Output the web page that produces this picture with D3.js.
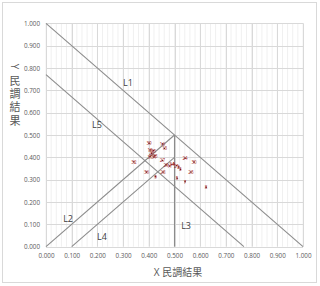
<!DOCTYPE html>
<html><head><meta charset="utf-8">
<script src="https://cdn.jsdelivr.net/npm/d3@7/dist/d3.min.js"></script>
<style>
html,body{margin:0;padding:0;background:#fff;}
svg{display:block;font-family:"Open Sans","Noto Sans CJK TC",sans-serif;}
</style></head><body>
<svg id="c" width="320" height="286"></svg>
<script>
// ---- data ----
const tickValues = [0,0.1,0.2,0.3,0.4,0.5,0.6,0.7,0.8,0.9,1.0];
const pointLabels = ["39","16","13","18","35","20","33","37","31","32","27","24","30","29","11","34","1","21","2","3","23","28","36","9","5","7","8"];
const pointX = [0.401,0.453,0.461,0.405,0.418,0.411,0.424,0.405,0.420,0.342,0.453,0.541,0.576,0.467,0.481,0.490,0.498,0.508,0.516,0.523,0.564,0.455,0.391,0.426,0.510,0.541,0.623];
const pointY = [0.463,0.460,0.440,0.433,0.430,0.418,0.408,0.403,0.402,0.380,0.386,0.396,0.379,0.366,0.361,0.368,0.370,0.363,0.357,0.346,0.334,0.334,0.334,0.314,0.306,0.291,0.266];
const refNames = ["L1","L2","L3","L4","L5"];
const refX1 = [0, 0, 0.5, 0.1, 0];
const refY1 = [1, 0, 0, 0, 0.77];
const refX2 = [1, 0.5, 0.5, 0.5, 0.77];
const refY2 = [0, 0.5, 0.5, 0.4, 0];
const refLabelX = [0.319, 0.086, 0.545, 0.218, 0.198];
const refLabelY = [0.733, 0.124, 0.097, 0.045, 0.545];
const xTitle = "X 民調結果";
const yTitle = "Y民調結果";

const svg = d3.select("#c");
svg.append("rect").attr("x",2.5).attr("y",2.5).attr("width",314).attr("height",280)
  .attr("fill","#fff").attr("stroke","#d9d9d9").attr("stroke-width",1);

const x = d3.scaleLinear().domain([0,1]).range([46,303]);
const y = d3.scaleLinear().domain([0,1]).range([246.7,23.3]);

// minor vertical gridlines
const g = svg.append("g");
g.selectAll("line.mv").data(d3.range(0,1.0001,0.02)).join("line")
  .attr("x1",d=>x(d)).attr("x2",d=>x(d)).attr("y1",y(0)).attr("y2",y(1))
  .attr("stroke","#f0f0f0").attr("stroke-width",1);
g.selectAll("line.v").data(tickValues).join("line")
  .attr("x1",d=>Math.round(x(d))+0.5).attr("x2",d=>Math.round(x(d))+0.5).attr("y1",y(0)).attr("y2",y(1))
  .attr("stroke","#d9d9d9").attr("stroke-width",1);
g.selectAll("line.h").data(tickValues).join("line")
  .attr("y1",d=>Math.round(y(d))+0.5).attr("y2",d=>Math.round(y(d))+0.5).attr("x1",x(0)).attr("x2",x(1))
  .attr("stroke","#d9d9d9").attr("stroke-width",1);

// axes
const fmt = d3.format(".3f");
const xa = svg.append("g").attr("transform",`translate(0,${y(0)+4})`)
  .call(d3.axisBottom(x).tickValues(tickValues).tickFormat(fmt).tickSize(0).tickPadding(3));
const ya = svg.append("g").attr("transform",`translate(${x(0)-6},0)`)
  .call(d3.axisLeft(y).tickValues(tickValues).tickFormat(fmt).tickSize(0).tickPadding(0));
[xa,ya].forEach(a=>{a.select(".domain").remove();
  a.selectAll("text").attr("fill","#595959").style("font-size","6.3px").style("font-family","'Open Sans',sans-serif");});

// reference lines
const refs = refNames.map((n,i)=>({n,x1:refX1[i],y1:refY1[i],x2:refX2[i],y2:refY2[i],lx:refLabelX[i],ly:refLabelY[i]}));
svg.append("g").selectAll("line").data(refs).join("line")
  .attr("x1",d=>x(d.x1)).attr("y1",d=>y(d.y1)).attr("x2",d=>x(d.x2)).attr("y2",d=>y(d.y2))
  .attr("stroke","#8c8c8c").attr("stroke-width",1.1);
svg.append("g").selectAll("text").data(refs).join("text")
  .attr("x",d=>x(d.lx)).attr("y",d=>y(d.ly)).attr("text-anchor","middle").attr("dominant-baseline","central")
  .attr("fill","#404040").style("font-size","9px").text(d=>d.n);

// points
const pts = pointLabels.map((l,i)=>({l,x:pointX[i],y:pointY[i]}));
const pg = svg.append("g");
pg.selectAll("rect").data(pts).join("rect")
  .attr("x",d=>x(d.x)-0.75).attr("y",d=>y(d.y)-0.75).attr("width",1.5).attr("height",1.5)
  .attr("fill","#7b1c1c");
pg.selectAll("text").data(pts).join("text")
  .attr("x",d=>x(d.x)).attr("y",d=>y(d.y)).attr("text-anchor","middle").attr("dominant-baseline","central")
  .attr("fill","#a02828").style("font-size","4.5px").text(d=>d.l);

// titles
svg.append("text").attr("x",178).attr("y",272).attr("text-anchor","middle").attr("dominant-baseline","central")
  .attr("fill","#595959").style("font-size","10px").text(xTitle);
const yChars = Array.from(yTitle);
const yt = svg.append("g");
yChars.forEach((ch,i)=>{
  const cy = i===0 ? 66.5 : 80 + (i-1)*13.4;
  const t = yt.append("text").attr("x",15).attr("y",cy).attr("text-anchor","middle")
    .attr("dominant-baseline","central").attr("fill","#595959").style("font-size", i===0?"10px":"11px").text(ch);
  if(i===0) t.attr("transform",`rotate(90,15,${cy})`);
});
</script></body></html>
